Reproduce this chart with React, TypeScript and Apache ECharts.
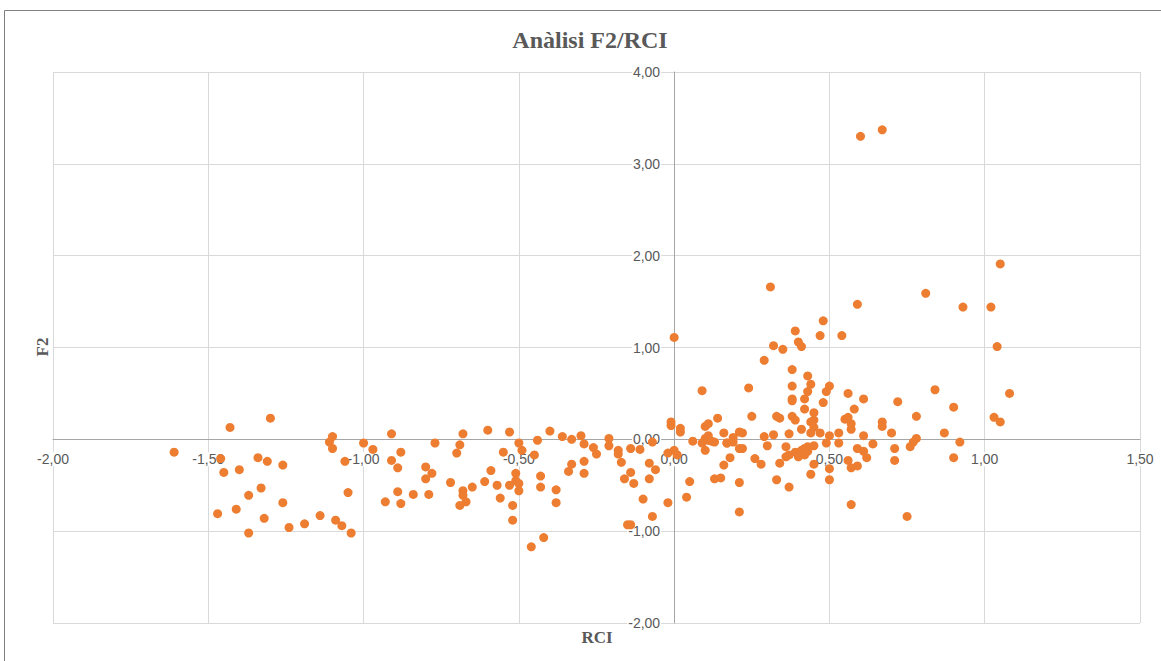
import React, { useEffect, useRef } from "react";
import * as echarts from "echarts";

// [RCI, F2] pairs, grouped by region
const westGroup: number[][] = [
  [-1.61, -0.14], [-1.43, 0.13], [-1.30, 0.23], [-1.46, -0.21], [-1.45, -0.36], [-1.40, -0.33],
  [-1.34, -0.20], [-1.31, -0.24], [-1.26, -0.28], [-1.33, -0.53], [-1.37, -0.61], [-1.47, -0.81],
  [-1.41, -0.76], [-1.26, -0.69], [-1.32, -0.86], [-1.37, -1.02], [-1.24, -0.96], [-1.19, -0.92],
  [-1.14, -0.83], [-1.09, -0.88], [-1.07, -0.94], [-1.04, -1.02], [-1.11, -0.03], [-1.10, 0.03],
  [-1.10, -0.10], [-1.06, -0.24], [-1.05, -0.58],
];

const midWestGroup: number[][] = [
  [-0.91, 0.06], [-1.00, -0.04], [-0.97, -0.11], [-0.88, -0.14], [-0.91, -0.23], [-0.89, -0.31],
  [-0.77, -0.04], [-0.80, -0.30], [-0.78, -0.37], [-0.80, -0.43], [-0.72, -0.47], [-0.89, -0.57],
  [-0.93, -0.68], [-0.88, -0.70], [-0.84, -0.60], [-0.79, -0.60], [-0.68, 0.06], [-0.69, -0.06],
  [-0.70, -0.15], [-0.60, 0.10], [-0.53, 0.08], [-0.50, -0.04], [-0.55, -0.14], [-0.49, -0.12],
  [-0.45, -0.17], [-0.44, -0.01], [-0.40, 0.09], [-0.59, -0.34], [-0.61, -0.46], [-0.57, -0.50],
  [-0.51, -0.37], [-0.53, -0.50], [-0.51, -0.45], [-0.50, -0.48], [-0.50, -0.56], [-0.43, -0.40],
  [-0.43, -0.52], [-0.65, -0.52], [-0.68, -0.56], [-0.68, -0.61], [-0.67, -0.68], [-0.69, -0.72],
  [-0.56, -0.64], [-0.52, -0.72], [-0.52, -0.88], [-0.42, -1.07], [-0.46, -1.17],
];

const centreGroup: number[][] = [
  [-0.36, 0.03], [-0.33, 0.00], [-0.30, 0.04], [-0.29, -0.05], [-0.26, -0.09], [-0.25, -0.16],
  [-0.38, -0.55], [-0.38, -0.69], [-0.33, -0.27], [-0.34, -0.35], [-0.29, -0.24], [-0.29, -0.37],
  [-0.21, 0.01], [-0.21, -0.07], [-0.18, -0.12], [-0.18, -0.16], [-0.17, -0.25], [-0.14, -0.10],
  [-0.11, -0.11], [-0.07, -0.03], [-0.14, -0.36], [-0.16, -0.43], [-0.13, -0.48], [-0.08, -0.26],
  [-0.06, -0.33], [-0.08, -0.43], [-0.10, -0.65], [-0.07, -0.84], [-0.15, -0.93], [-0.14, -0.93],
  [-0.02, -0.69], [-0.02, -0.15], [-0.01, 0.19], [-0.01, 0.15], [0.00, -0.12], [0.01, -0.17],
  [0.02, 0.12], [0.02, 0.08], [0.06, -0.02], [0.05, -0.46], [0.04, -0.63], [0.10, 0.14],
  [0.11, 0.17], [0.14, 0.23], [0.10, 0.01], [0.11, 0.04], [0.12, -0.02], [0.10, -0.12],
  [0.16, 0.07], [0.17, -0.04], [0.19, 0.02], [0.19, -0.03], [0.18, -0.20], [0.16, -0.28],
  [0.13, -0.43], [0.15, -0.42], [0.21, -0.47], [0.21, -0.79], [0.21, -0.10], [0.21, 0.08],
];

const eastGroup: number[][] = [
  [0.00, 1.11], [0.09, 0.53], [0.24, 0.56], [0.29, 0.86], [0.32, 1.02], [0.35, 0.98],
  [0.39, 1.18], [0.40, 1.06], [0.41, 1.01], [0.47, 1.13], [0.48, 1.29], [0.38, 0.76],
  [0.43, 0.69], [0.44, 0.60], [0.38, 0.58], [0.43, 0.52], [0.42, 0.44], [0.38, 0.44],
  [0.38, 0.42], [0.50, 0.58], [0.49, 0.52], [0.48, 0.40], [0.42, 0.33], [0.45, 0.29],
  [0.25, 0.25], [0.33, 0.25], [0.34, 0.23], [0.38, 0.25], [0.39, 0.21], [0.45, 0.21],
  [0.44, 0.19], [0.45, 0.13], [0.41, 0.11], [0.37, 0.06], [0.32, 0.05], [0.29, 0.03],
  [0.44, 0.07], [0.47, 0.07], [0.50, 0.04], [0.22, 0.07], [0.11, -0.01], [0.09, -0.04],
  [0.13, -0.03], [0.17, -0.04], [0.22, -0.10], [0.30, -0.07], [0.36, -0.08], [0.26, -0.21],
  [0.28, -0.27], [0.34, -0.26], [0.36, -0.19], [0.37, -0.17], [0.39, -0.14], [0.40, -0.15],
  [0.41, -0.12], [0.42, -0.10], [0.43, -0.08], [0.45, -0.07], [0.40, -0.19], [0.42, -0.17],
  [0.43, -0.13], [0.45, -0.27], [0.44, -0.38], [0.49, -0.04], [0.50, -0.32], [0.50, -0.44],
  [0.33, -0.44], [0.37, -0.52], [0.31, 1.66],
];

const farEastGroup: number[][] = [
  [1.05, 1.91], [0.81, 1.59], [0.59, 1.47], [0.93, 1.44], [1.02, 1.44], [0.54, 1.13],
  [1.04, 1.01], [0.56, 0.50], [0.61, 0.44], [0.84, 0.54], [1.08, 0.50], [0.72, 0.41],
  [0.58, 0.33], [0.90, 0.35], [0.55, 0.22], [0.56, 0.24], [0.57, 0.17], [0.57, 0.11],
  [0.67, 0.19], [0.67, 0.14], [0.78, 0.25], [1.03, 0.24], [1.05, 0.19], [0.53, 0.07],
  [0.61, 0.04], [0.70, 0.07], [0.87, 0.07], [0.78, 0.01], [0.77, -0.03], [0.76, -0.08],
  [0.53, -0.04], [0.64, -0.05], [0.59, -0.10], [0.61, -0.13], [0.62, -0.20], [0.71, -0.10],
  [0.92, -0.03], [0.56, -0.23], [0.59, -0.29], [0.57, -0.31], [0.71, -0.23], [0.90, -0.20],
  [0.57, -0.71], [0.75, -0.84], [0.60, 3.30], [0.67, 3.37],
];

const titleText = "Anàlisi F2/RCI";
const xAxisTitle = "RCI";
const yAxisTitle = "F2";
const xRange = { min: -2, max: 1.5, interval: 0.5 };
const yRange = { min: -2, max: 4, interval: 1 };

const fmt = (v: number) => v.toFixed(2).replace(".", ",");

const W = 1161;
const H = 661;
const GRID = { left: 53, right: 21, top: 72, bottom: 38 };

export default function App() {
  const ref = useRef<HTMLDivElement>(null);
  useEffect(() => {
    if (!ref.current) return;
    const chart = echarts.init(ref.current, undefined, { renderer: "svg" });
    const allPoints = [...westGroup, ...midWestGroup, ...centreGroup, ...eastGroup, ...farEastGroup];
    // Excel-style axes crossing at zero: shift the axes from the grid edges to the zero lines
    const gridW = W - GRID.left - GRID.right;
    const gridH = H - GRID.top - GRID.bottom;
    const xZeroShift = ((0 - xRange.min) / (xRange.max - xRange.min)) * gridW;
    const yZeroShift = ((0 - yRange.min) / (yRange.max - yRange.min)) * gridH;
    const labelStyle = {
      color: "#595959",
      fontSize: 14,
      fontFamily: "Liberation Sans, Arial, sans-serif",
      backgroundColor: "#ffffff",
      padding: [0, 1],
      formatter: (v: number) => fmt(v),
    };
    chart.setOption({
      animation: false,
      backgroundColor: "#ffffff",
      grid: { ...GRID, containLabel: false },
      xAxis: {
        type: "value",
        position: "bottom",
        offset: -yZeroShift,
        min: xRange.min,
        max: xRange.max,
        interval: xRange.interval,
        axisLine: { show: true, onZero: false, lineStyle: { color: "#a6a6a6", width: 1 } },
        axisTick: { show: false },
        axisLabel: { ...labelStyle, margin: 13 },
        splitLine: { show: true, lineStyle: { color: "#d9d9d9", width: 1 } },
      },
      yAxis: {
        type: "value",
        position: "left",
        offset: -xZeroShift,
        min: yRange.min,
        max: yRange.max,
        interval: yRange.interval,
        axisLine: { show: true, onZero: false, lineStyle: { color: "#a6a6a6", width: 1 } },
        axisTick: { show: false },
        axisLabel: { ...labelStyle, margin: 13 },
        splitLine: { show: true, lineStyle: { color: "#d9d9d9", width: 1 } },
      },
      series: [
        {
          type: "scatter",
          data: allPoints,
          symbol: "circle",
          symbolSize: 9,
          itemStyle: { color: "#ED7D31", opacity: 1 },
        },
      ],
      graphic: [
        {
          type: "rect",
          shape: { x: 4.5, y: 10.5, width: 1160, height: 660 },
          style: { fill: "none", stroke: "#7f7f7f", lineWidth: 1 },
          silent: true,
        },
        {
          type: "text",
          x: 590,
          y: 40,
          style: {
            text: titleText,
            fill: "#595959",
            font: "bold 24px 'Liberation Serif', serif",
            textAlign: "center",
            textVerticalAlign: "middle",
          },
        },
        {
          type: "text",
          x: 597,
          y: 637,
          style: {
            text: xAxisTitle,
            fill: "#595959",
            font: "bold 17px 'Liberation Serif', serif",
            textAlign: "center",
            textVerticalAlign: "middle",
          },
        },
        {
          type: "text",
          x: 42,
          y: 347,
          rotation: Math.PI / 2,
          style: {
            text: yAxisTitle,
            fill: "#595959",
            font: "bold 17px 'Liberation Serif', serif",
            textAlign: "center",
            textVerticalAlign: "middle",
          },
        },
      ],
    });
    return () => chart.dispose();
  }, []);
  return (
    <div
      ref={ref}
      style={{ position: "fixed", left: 0, top: 0, width: W, height: H, background: "#fff" }}
    />
  );
}
